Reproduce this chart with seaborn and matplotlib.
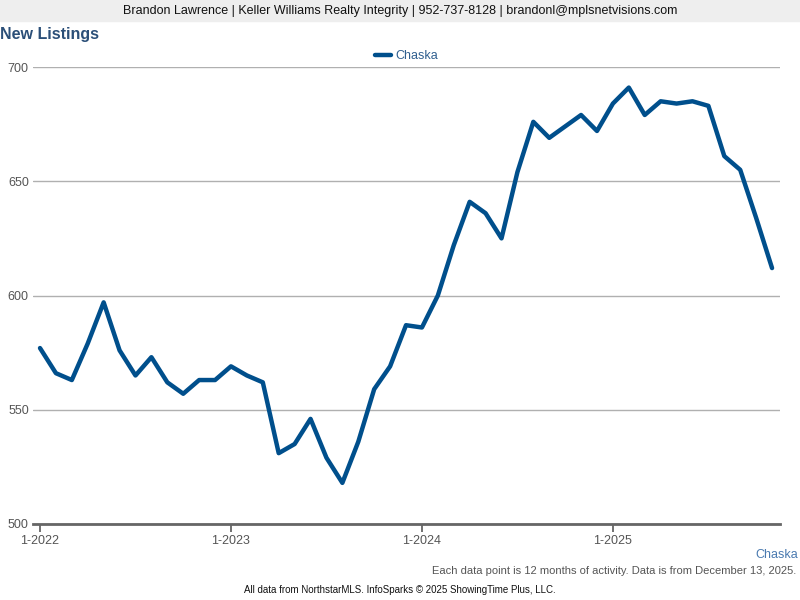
import seaborn as sns
import matplotlib.pyplot as plt
import pandas as pd

# значения с графика (янв 2022 - ноя 2025)
months = list(range(47))
listings = [577, 566, 563, 579, 597, 576, 565, 573, 562, 557, 563, 563,
            569, 565, 562, 531, 535, 546, 529, 518, 536, 559, 569, 587,
            586, 600, 622, 641, 636, 625, 654, 676, 669, 674, 679, 672,
            684, 691, 679, 685, 684, 685, 683, 661, 655, 634, 612]
tick_pos = [0, 12, 24, 36]
tick_labels = ['1-2022', '1-2023', '1-2024', '1-2025']

df = pd.DataFrame({'month': months, 'value': listings})

sns.set_style('white')
plt.rcParams['font.family'] = ['Liberation Sans', 'DejaVu Sans']

fig = plt.figure(figsize=(8, 6), dpi=100)
ax = fig.add_axes([33 / 800, 1 - 524 / 600, 747 / 800, 457 / 600])

line_color = '#004f8c'
sns.lineplot(data=df, x='month', y='value', ax=ax, color=line_color,
             linewidth=3.2, label='Chaska')

ax.set_xlim(-0.44, 46.5)
ax.set_ylim(500, 700)
ax.set_yticks([500, 550, 600, 650, 700])
ax.yaxis.grid(True, color='#b0b0b0', linewidth=1)
ax.set_xticks(tick_pos)
ax.set_xticklabels(tick_labels)
ax.tick_params(axis='x', bottom=True, direction='out', length=6, width=1.3, color='#666666',
               labelsize=9, labelcolor='#555555', pad=2)
ax.tick_params(axis='y', length=0, labelsize=9, labelcolor='#555555', pad=3)
ax.set_xlabel('')
ax.set_ylabel('')
for s in ['top', 'right', 'left']:
    ax.spines[s].set_visible(False)
ax.spines['bottom'].set_color('#666666')
ax.spines['bottom'].set_linewidth(2)

leg = ax.legend(loc='lower center', bbox_to_anchor=(0.5, 1.0), frameon=False,
                fontsize=9, handlelength=1.3, handletextpad=0.4, borderaxespad=0.0)
for t in leg.get_texts():
    t.set_color('#2f5f8f')

# шапка
fig.patches.append(plt.Rectangle((0, 1 - 21 / 600), 1, 21 / 600, transform=fig.transFigure,
                                 color='#eeeeee', zorder=0))
fig.text(0.5, 1 - 11 / 600, 'Brandon Lawrence | Keller Williams Realty Integrity | 952-737-8128 | brandonl@mplsnetvisions.com',
         ha='center', va='center', fontsize=9, color='#111111')
fig.text(0.0, 1 - 35 / 600, 'New Listings', ha='left', va='center', fontsize=11.5,
         fontweight='bold', color='#2b4f78')

# подписи снизу
fig.text(798 / 800, 1 - 555 / 600, 'Chaska', ha='right', va='center', fontsize=9, color='#4a7ab0')
fig.text(796 / 800, 1 - 571 / 600, 'Each data point is 12 months of activity. Data is from December 13, 2025.',
         ha='right', va='center', fontsize=8, color='#555555')
fig.text(0.5, 1 - 590 / 600, 'All data from NorthstarMLS. InfoSparks © 2025 ShowingTime Plus, LLC.',
         ha='center', va='center', fontsize=7, color='#111111')

fig.savefig('out.png', dpi=100)
